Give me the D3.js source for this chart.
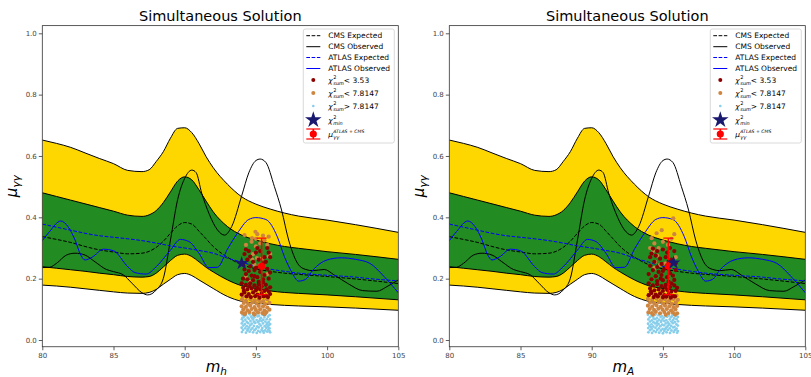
<!DOCTYPE html>
<html>
<head>
<meta charset="utf-8">
<script src="https://cdn.jsdelivr.net/npm/d3@7"></script>
<style>
  body { margin: 0; background: #fff; }
  svg { display: block; font-family: "DejaVu Sans", sans-serif; }
</style>
</head>
<body>
<svg id="chart" width="811" height="377"></svg>
<script>
// expected limit bands, common x grid
const bandX   = [80,81,82,83,84,85,86,87,87.5,88,88.5,89,89.5,90,90.5,91,91.5,92,93,94,95,96,97,98,100,102,105];
const twoUp   = [0.652,0.641,0.628,0.61,0.592,0.575,0.553,0.549,0.555,0.582,0.614,0.658,0.69,0.692,0.676,0.641,0.598,0.562,0.508,0.467,0.443,0.427,0.414,0.404,0.391,0.376,0.351];
const oneUp   = [0.48,0.468,0.456,0.444,0.432,0.42,0.407,0.403,0.408,0.422,0.448,0.483,0.518,0.532,0.522,0.49,0.453,0.418,0.37,0.342,0.326,0.314,0.305,0.299,0.288,0.279,0.263];
const oneDown = [0.239,0.234,0.229,0.224,0.218,0.213,0.207,0.205,0.207,0.218,0.238,0.259,0.276,0.28,0.272,0.255,0.237,0.222,0.196,0.177,0.168,0.16,0.155,0.152,0.147,0.141,0.131];
const twoDown = [0.179,0.176,0.172,0.167,0.162,0.157,0.153,0.152,0.155,0.165,0.182,0.198,0.213,0.217,0.21,0.196,0.182,0.168,0.142,0.126,0.12,0.116,0.113,0.111,0.108,0.104,0.097];
const cmsExp  = [0.337,0.328,0.318,0.305,0.294,0.287,0.281,0.283,0.289,0.302,0.322,0.348,0.372,0.383,0.378,0.355,0.33,0.305,0.27,0.246,0.232,0.224,0.218,0.214,0.207,0.199,0.184];

const atlasExpX = [80,81,82,83,84,85,86,87,88,89,90,91,92,93,94,95,96,97,98,100,102,103,105];
const atlasExp  = [0.378,0.368,0.358,0.348,0.34,0.335,0.33,0.324,0.316,0.307,0.3,0.292,0.283,0.267,0.254,0.24,0.231,0.224,0.218,0.211,0.205,0.2,0.193];

const atlasObsX = [80,80.5,81.3,81.8,82.3,82.7,83,83.5,84.3,85,86,86.5,87.3,88,89,89.7,90.3,91,91.7,92.3,93,93.7,94.5,95,95.7,96.5,97,97.5,98,98.5,99,100,101,102,103,104,105];
const atlasObs  = [0.324,0.353,0.388,0.37,0.326,0.277,0.261,0.27,0.296,0.291,0.239,0.22,0.215,0.239,0.293,0.328,0.321,0.283,0.236,0.237,0.296,0.348,0.393,0.399,0.393,0.337,0.272,0.223,0.192,0.198,0.228,0.261,0.268,0.263,0.25,0.207,0.154];

const cmsObsX = [80,80.5,81,81.7,82.3,83,83.7,84.5,85,85.7,86.3,87,87.4,88,88.5,89,89.5,90,90.5,90.8,91.2,91.7,92.3,92.8,93.3,94,94.5,95,95.3,95.7,96.3,96.8,97.3,98,98.5,99,99.8,100.5,101.5,102.5,103.5,104.2,105];
const cmsObs  = [0.236,0.237,0.25,0.277,0.283,0.277,0.255,0.23,0.223,0.212,0.185,0.154,0.147,0.163,0.201,0.326,0.457,0.527,0.554,0.546,0.478,0.413,0.359,0.342,0.37,0.47,0.545,0.585,0.59,0.579,0.5,0.424,0.326,0.245,0.23,0.226,0.23,0.212,0.183,0.161,0.159,0.174,0.196];

// scan points, left panel (m_h)
const leftBlue = [
  [94.05,0.083],[94.3,0.081],[94.55,0.084],[94.78,0.080],[95.02,0.083],[95.22,0.079],[95.47,0.082],[95.7,0.084],[95.96,0.081],
  [94.15,0.075],[94.42,0.073],[94.66,0.076],[94.9,0.074],[95.12,0.077],[95.36,0.072],[95.6,0.075],[95.85,0.076],
  [94.02,0.068],[94.26,0.066],[94.5,0.069],[94.8,0.067],[95.05,0.065],[95.3,0.069],[95.52,0.066],[95.76,0.068],[95.99,0.067],
  [94.1,0.061],[94.36,0.059],[94.62,0.062],[94.86,0.060],[95.15,0.058],[95.4,0.062],[95.66,0.060],[95.9,0.059],
  [94.01,0.054],[94.22,0.052],[94.46,0.055],[94.7,0.053],[94.96,0.056],[95.25,0.052],[95.5,0.054],[95.8,0.055],[96.0,0.052],
  [94.12,0.047],[94.35,0.045],[94.6,0.048],[94.86,0.046],[95.1,0.044],[95.35,0.047],[95.62,0.045],[95.9,0.048],
  [94.0,0.040],[94.25,0.038],[94.52,0.041],[94.76,0.039],[95.0,0.037],[95.2,0.041],[95.45,0.039],[95.72,0.040],[95.95,0.038],
  [94.1,0.033],[94.4,0.031],[94.66,0.034],[94.9,0.032],[95.16,0.030],[95.4,0.033],[95.65,0.031],[95.86,0.034],
  [94.02,0.026],[94.3,0.024],[94.56,0.027],[94.8,0.025],[95.06,0.023],[95.3,0.026],[95.55,0.024],[95.8,0.027],[96.0,0.025],
  [94.2,0.078],[94.75,0.071],[95.25,0.063],[95.75,0.050],[94.45,0.036],[95.5,0.029],[94.9,0.057],[95.85,0.043],[94.05,0.072],[95.95,0.030]
];
const leftOrange = [
  [94.1,0.142],[94.5,0.145],[95.3,0.141],[95.9,0.146],
  [94.02,0.132],[94.3,0.128],[94.62,0.133],[94.92,0.129],[95.2,0.131],[95.52,0.127],[95.8,0.133],
  [94.15,0.121],[94.45,0.118],[94.75,0.122],[95.05,0.119],[95.35,0.123],[95.65,0.117],[95.95,0.121],
  [94.0,0.11],[94.3,0.108],[94.6,0.112],[94.9,0.107],[95.2,0.111],[95.5,0.109],[95.8,0.106],
  [94.12,0.1],[94.42,0.097],[94.7,0.101],[95.0,0.098],[95.3,0.1],[95.6,0.096],[95.95,0.099],
  [94.02,0.09],[94.26,0.088],[94.55,0.091],[94.85,0.087],[95.15,0.09],[95.45,0.088],[95.75,0.091],
  [94.2,0.084],[94.9,0.083],[95.6,0.084],
  [94.97,0.353],[95.1,0.345],[94.2,0.342],[94.73,0.332],[95.5,0.34],[95.9,0.337],[95.0,0.33],[94.7,0.32],[95.3,0.315],
  [95.8,0.31],[94.3,0.31],[95.6,0.325],[95.0,0.305],[94.8,0.28],[95.9,0.272],[95.07,0.267],[94.75,0.262],[95.4,0.265],
  [94.9,0.245],[95.3,0.245],[96.0,0.28],[94.6,0.19],[95.8,0.215],[94.3,0.205]
];
const leftDarkRed = [
  [94.3,0.295],[94.5,0.29],[94.2,0.28],[94.6,0.272],[95.1,0.3],[95.0,0.285],[95.3,0.29],[95.8,0.3],[95.9,0.285],[95.6,0.27],
  [94.4,0.262],[94.8,0.255],[95.2,0.262],[95.7,0.255],[94.1,0.245],[94.6,0.24],[95.0,0.235],[95.5,0.25],[96.0,0.27],
  [94.2,0.23],[94.5,0.225],[94.9,0.228],[95.3,0.222],[95.8,0.232],[94.3,0.215],[94.7,0.21],[95.1,0.205],[95.6,0.212],[96.0,0.22],
  [94.1,0.2],[94.4,0.198],[94.8,0.195],[95.2,0.19],[95.5,0.198],[95.9,0.2],
  [94.0,0.185],[94.3,0.18],[94.6,0.185],[94.9,0.178],[95.2,0.182],[95.4,0.175],[95.7,0.18],[96.0,0.172],
  [94.1,0.17],[94.4,0.165],[94.7,0.168],[95.0,0.162],[95.3,0.165],[95.6,0.16],[95.9,0.158],
  [94.2,0.155],[94.5,0.15],[94.8,0.155],[95.1,0.148],[95.4,0.152],[95.7,0.145],[96.0,0.15],
  [94.0,0.148],[94.35,0.142],[94.65,0.14],[94.95,0.143],[95.25,0.138],[95.55,0.142],[95.85,0.14],
  [94.15,0.16],[95.1,0.17],[95.5,0.188],[94.9,0.208],[94.55,0.175],[95.75,0.165]
];

// scan points, right panel (m_A)
const rightBlue = [
  [93.95,0.082],[94.2,0.079],[94.48,0.083],[94.7,0.081],[94.95,0.078],[95.18,0.083],[95.42,0.080],[95.68,0.082],[95.92,0.079],
  [94.08,0.074],[94.32,0.076],[94.58,0.072],[94.84,0.075],[95.08,0.073],[95.3,0.076],[95.56,0.074],[95.8,0.071],[96.05,0.075],
  [93.98,0.067],[94.22,0.064],[94.46,0.068],[94.72,0.066],[94.98,0.069],[95.24,0.064],[95.48,0.067],[95.72,0.065],[95.96,0.068],
  [94.1,0.060],[94.34,0.058],[94.6,0.061],[94.86,0.059],[95.1,0.062],[95.36,0.057],[95.6,0.060],[95.84,0.058],[96.06,0.061],
  [93.96,0.053],[94.2,0.051],[94.45,0.054],[94.7,0.052],[94.95,0.050],[95.2,0.054],[95.45,0.052],[95.7,0.055],[95.95,0.051],
  [94.06,0.046],[94.32,0.044],[94.58,0.047],[94.82,0.045],[95.08,0.048],[95.32,0.044],[95.58,0.046],[95.82,0.043],[96.05,0.047],
  [93.97,0.039],[94.22,0.037],[94.48,0.040],[94.72,0.038],[94.98,0.036],[95.22,0.040],[95.48,0.038],[95.72,0.041],[95.96,0.037],
  [94.1,0.032],[94.36,0.030],[94.6,0.033],[94.86,0.031],[95.1,0.029],[95.34,0.033],[95.6,0.031],[95.84,0.032],[96.05,0.029],
  [93.98,0.025],[94.24,0.023],[94.5,0.026],[94.74,0.024],[95.0,0.022],[95.26,0.025],[95.5,0.023],[95.76,0.026],[96.0,0.024],
  [94.35,0.070],[94.9,0.063],[95.4,0.049],[95.9,0.034],[94.15,0.042],[95.15,0.035],[94.6,0.055],[95.65,0.078]
];
const rightOrange = [
  [94.0,0.146],[94.4,0.142],[94.9,0.147],[95.5,0.143],[95.95,0.145],
  [93.95,0.134],[94.25,0.131],[94.55,0.135],[94.85,0.13],[95.15,0.133],[95.45,0.129],[95.75,0.134],[96.05,0.131],
  [94.1,0.122],[94.4,0.12],[94.7,0.124],[95.0,0.119],[95.3,0.123],[95.6,0.118],[95.9,0.122],
  [93.95,0.112],[94.25,0.109],[94.55,0.113],[94.85,0.108],[95.15,0.112],[95.45,0.11],[95.75,0.107],[96.0,0.111],
  [94.08,0.101],[94.38,0.098],[94.68,0.102],[94.98,0.099],[95.28,0.101],[95.58,0.097],[95.88,0.1],
  [93.98,0.09],[94.22,0.088],[94.5,0.092],[94.8,0.087],[95.1,0.091],[95.4,0.088],[95.7,0.09],[96.0,0.087],
  [94.3,0.083],[95.2,0.082],[95.85,0.083],
  [95.73,0.397],[94.56,0.348],[94.92,0.358],[94.21,0.332],[94.4,0.315],[94.3,0.29],[94.6,0.275],[94.45,0.255],
  [94.7,0.3],[95.0,0.32],[95.6,0.33],[95.35,0.31],[95.8,0.345],[94.1,0.3],[94.8,0.245],[94.4,0.235],[95.2,0.25],[95.9,0.27]
];
const rightDarkRed = [
  [94.3,0.298],[94.6,0.29],[94.2,0.282],[94.5,0.275],[95.0,0.295],[95.3,0.285],[95.5,0.3],[95.8,0.29],[94.1,0.27],[94.8,0.265],
  [95.2,0.27],[95.6,0.262],[94.4,0.255],[94.9,0.248],[95.4,0.255],[95.9,0.25],[94.1,0.242],[94.6,0.238],[95.1,0.232],
  [94.3,0.228],[94.7,0.222],[95.0,0.225],[95.5,0.218],[95.9,0.228],[94.0,0.215],[94.5,0.208],[94.9,0.212],[95.3,0.205],[95.7,0.21],
  [94.2,0.198],[94.6,0.192],[95.0,0.195],[95.4,0.19],[95.8,0.196],
  [94.0,0.185],[94.3,0.178],[94.6,0.182],[94.9,0.176],[95.2,0.18],[95.5,0.173],[95.8,0.178],[96.0,0.17],
  [94.1,0.168],[94.4,0.162],[94.7,0.165],[95.0,0.16],[95.3,0.163],[95.6,0.158],[95.9,0.16],
  [94.2,0.153],[94.5,0.148],[94.8,0.152],[95.1,0.146],[95.4,0.15],[95.7,0.144],[94.0,0.146],
  [94.35,0.14],[94.65,0.142],[95.0,0.139],[95.25,0.141],[95.55,0.138],[95.85,0.142],
  [94.15,0.158],[95.15,0.172],[94.85,0.2],[95.6,0.185]
];

// best fit points
const leftStar = [94.0, 0.25];
const rightStar = [95.75, 0.252];
const leftFit = {x: 95.4, y: 0.24, lo: 0.148, hi: 0.332};
const rightFit = {x: 95.38, y: 0.241, lo: 0.148, hi: 0.332};

const yTicks = [0, 0.2, 0.4, 0.6, 0.8, 1.0];
const xTicks = [80, 85, 90, 95, 100, 105];

const svg = d3.select("#chart");

function drawPanel(left, xSub, blue, orange, darkred, star, fit) {
  const x = d3.scaleLinear().domain([80, 105]).range([left, left + 356]);
  const y = d3.scaleLinear().domain([0, 1]).range([340, 33.3]);
  const top = y(1.025), bottom = y(-0.022);
  const g = svg.append("g");
  const clipId = "clip" + Math.round(left);
  g.append("clipPath").attr("id", clipId).append("rect")
    .attr("x", left).attr("y", top).attr("width", 356).attr("height", bottom - top);
  const p = g.append("g").attr("clip-path", `url(#${clipId})`);

  const area = (lo, hi) => d3.area()
    .x((d, i) => x(bandX[i])).y0((d, i) => y(lo[i])).y1((d, i) => y(hi[i]))
    .curve(d3.curveMonotoneX)(bandX);
  const line = (xs, ys) => d3.line()
    .x((d, i) => x(xs[i])).y((d, i) => y(ys[i]))
    .curve(d3.curveMonotoneX)(xs);

  p.append("path").attr("d", area(twoDown, twoUp)).attr("fill", "#FFD700");
  p.append("path").attr("d", area(oneDown, oneUp)).attr("fill", "#228B22");
  [twoUp, oneUp, oneDown, twoDown].forEach(arr => {
    p.append("path").attr("d", line(bandX, arr)).attr("fill", "none").attr("stroke", "#000").attr("stroke-width", 1);
  });
  p.append("path").attr("d", line(bandX, cmsExp)).attr("fill", "none")
    .attr("stroke", "#000").attr("stroke-width", 1).attr("stroke-dasharray", "3.7,1.6");
  p.append("path").attr("d", line(cmsObsX, cmsObs)).attr("fill", "none")
    .attr("stroke", "#000").attr("stroke-width", 1);
  p.append("path").attr("d", line(atlasExpX, atlasExp)).attr("fill", "none")
    .attr("stroke", "#0000ff").attr("stroke-width", 1).attr("stroke-dasharray", "3.7,1.6");
  p.append("path").attr("d", line(atlasObsX, atlasObs)).attr("fill", "none")
    .attr("stroke", "#0000ff").attr("stroke-width", 1);

  // scan points
  p.append("g").selectAll("circle").data(blue).join("circle")
    .attr("cx", d => x(d[0])).attr("cy", d => y(d[1])).attr("r", 1.4).attr("fill", "#87CEEB");
  p.append("g").selectAll("circle").data(orange).join("circle")
    .attr("cx", d => x(d[0])).attr("cy", d => y(d[1])).attr("r", 2.1).attr("fill", "#CD853F");
  p.append("g").selectAll("circle").data(darkred).join("circle")
    .attr("cx", d => x(d[0])).attr("cy", d => y(d[1])).attr("r", 2.1).attr("fill", "#8B0000");

  // combined fit with error bar
  const fx = x(fit.x);
  p.append("line").attr("x1", fx).attr("x2", fx).attr("y1", y(fit.lo)).attr("y2", y(fit.hi))
    .attr("stroke", "red").attr("stroke-width", 1.5);
  [fit.lo, fit.hi].forEach(v => {
    p.append("line").attr("x1", fx - 5).attr("x2", fx + 5).attr("y1", y(v)).attr("y2", y(v))
      .attr("stroke", "red").attr("stroke-width", 1.2);
  });
  p.append("circle").attr("cx", fx).attr("cy", y(fit.y)).attr("r", 3.6).attr("fill", "red");

  p.append("path").attr("d", d3.symbol(d3.symbolStar, 60)())
    .attr("transform", `translate(${x(star[0])},${y(star[1])})`).attr("fill", "#191970");

  // frame
  g.append("rect").attr("x", left).attr("y", top).attr("width", 356).attr("height", bottom - top)
    .attr("fill", "none").attr("stroke", "#333").attr("stroke-width", 0.8);

  // axes
  const ya = g.append("g").attr("transform", `translate(${left},0)`)
    .call(d3.axisLeft(y).tickValues(yTicks).tickFormat(d3.format(".1f")).tickSize(3.5).tickPadding(2));
  const xa = g.append("g").attr("transform", `translate(0,${bottom})`)
    .call(d3.axisBottom(x).tickValues(xTicks).tickFormat(d3.format("d")).tickSize(3.5).tickPadding(2.5));
  [ya, xa].forEach(a => {
    a.select(".domain").remove();
    a.selectAll("line").attr("stroke", "#333").attr("stroke-width", 0.8);
    a.selectAll("text").attr("font-size", 7).attr("fill", "#444").attr("font-family", "DejaVu Sans");
  });

  // title and labels
  const cx = left + 178;
  g.append("text").attr("x", cx).attr("y", 21).attr("text-anchor", "middle")
    .attr("font-size", 14.5).attr("fill", "#000").text("Simultaneous Solution");

  const xl = g.append("text").attr("x", cx - 4).attr("y", 372).attr("text-anchor", "middle")
    .attr("font-size", 15).attr("font-style", "italic");
  xl.append("tspan").text("m");
  xl.append("tspan").attr("font-size", 10.5).attr("dy", 3).text(xSub);

  const yl = g.append("text").attr("transform", `translate(${left - 25},${(top + bottom) / 2}) rotate(-90)`)
    .attr("text-anchor", "middle").attr("font-size", 15).attr("font-style", "italic");
  yl.append("tspan").text("μ");
  yl.append("tspan").attr("font-size", 10.5).attr("dy", 3).text("γγ");

  drawLegend(left + 261);
}

function drawLegend(lx) {
  const g = svg.append("g");
  g.append("rect").attr("x", lx).attr("y", 29).attr("width", 91).attr("height", 114).attr("rx", 2)
    .attr("fill", "#fff").attr("fill-opacity", 0.85).attr("stroke", "#d0d0d0").attr("stroke-width", 0.8);
  const hx = lx + 10, tx = lx + 25;
  const rows = [35.7, 46.7, 57.5, 68.5, 80, 93, 106, 120, 134];
  const lineRows = [
    {text: "CMS Expected", color: "#000", dash: "3.7,1.6"},
    {text: "CMS Observed", color: "#000", dash: null},
    {text: "ATLAS Expected", color: "#0000ff", dash: "3.7,1.6"},
    {text: "ATLAS Observed", color: "#0000ff", dash: null}
  ];
  lineRows.forEach((r, i) => {
    g.append("line").attr("x1", hx - 7).attr("x2", hx + 7).attr("y1", rows[i]).attr("y2", rows[i])
      .attr("stroke", r.color).attr("stroke-width", 1).attr("stroke-dasharray", r.dash);
    g.append("text").attr("x", tx).attr("y", rows[i] + 2.7).attr("font-size", 7.5).text(r.text);
  });
  const chiRows = [
    {color: "#8B0000", r: 2, text: "< 3.53"},
    {color: "#CD853F", r: 2, text: "< 7.8147"},
    {color: "#87CEEB", r: 1.3, text: "> 7.8147"}
  ];
  chiRows.forEach((c, i) => {
    const yy = rows[4 + i];
    g.append("circle").attr("cx", hx).attr("cy", yy).attr("r", c.r).attr("fill", c.color);
    g.append("text").attr("x", tx).attr("y", yy + 2.7).attr("font-size", 7.5).attr("font-style", "italic").text("χ");
    g.append("text").attr("x", tx + 5).attr("y", yy - 0.8).attr("font-size", 5).text("2");
    g.append("text").attr("x", tx + 5).attr("y", yy + 4.6).attr("font-size", 5).attr("font-style", "italic").text("sum");
    g.append("text").attr("x", tx + 15.5).attr("y", yy + 2.7).attr("font-size", 7.5).text(c.text);
  });
  // chi2 min
  const ys = rows[7];
  g.append("path").attr("d", d3.symbol(d3.symbolStar, 85)())
    .attr("transform", `translate(${hx},${ys})`).attr("fill", "#191970");
  g.append("text").attr("x", tx).attr("y", ys + 2.7).attr("font-size", 7.5).attr("font-style", "italic").text("χ");
  g.append("text").attr("x", tx + 5).attr("y", ys - 0.8).attr("font-size", 5).text("2");
  g.append("text").attr("x", tx + 5).attr("y", ys + 4.6).attr("font-size", 5).attr("font-style", "italic").text("min");
  // mu combined
  const ym = rows[8];
  [ym - 5, ym + 5].forEach(v => {
    g.append("line").attr("x1", hx - 7).attr("x2", hx + 7).attr("y1", v).attr("y2", v)
      .attr("stroke", "red").attr("stroke-width", 1.2);
  });
  g.append("line").attr("x1", hx).attr("x2", hx).attr("y1", ym - 5).attr("y2", ym + 5)
    .attr("stroke", "red").attr("stroke-width", 1.5);
  g.append("circle").attr("cx", hx).attr("cy", ym).attr("r", 3.6).attr("fill", "red");
  g.append("text").attr("x", tx).attr("y", ym + 2.7).attr("font-size", 7.5).attr("font-style", "italic").text("μ");
  g.append("text").attr("x", tx + 5).attr("y", ym - 1.5).attr("font-size", 4.6).attr("font-style", "italic").text("ATLAS + CMS");
  g.append("text").attr("x", tx + 5).attr("y", ym + 4.6).attr("font-size", 5).attr("font-style", "italic").text("γγ");
}

drawPanel(42.3, "h", leftBlue, leftOrange, leftDarkRed, leftStar, leftFit);
drawPanel(449.3, "A", rightBlue, rightOrange, rightDarkRed, rightStar, rightFit);
</script>
</body>
</html>
